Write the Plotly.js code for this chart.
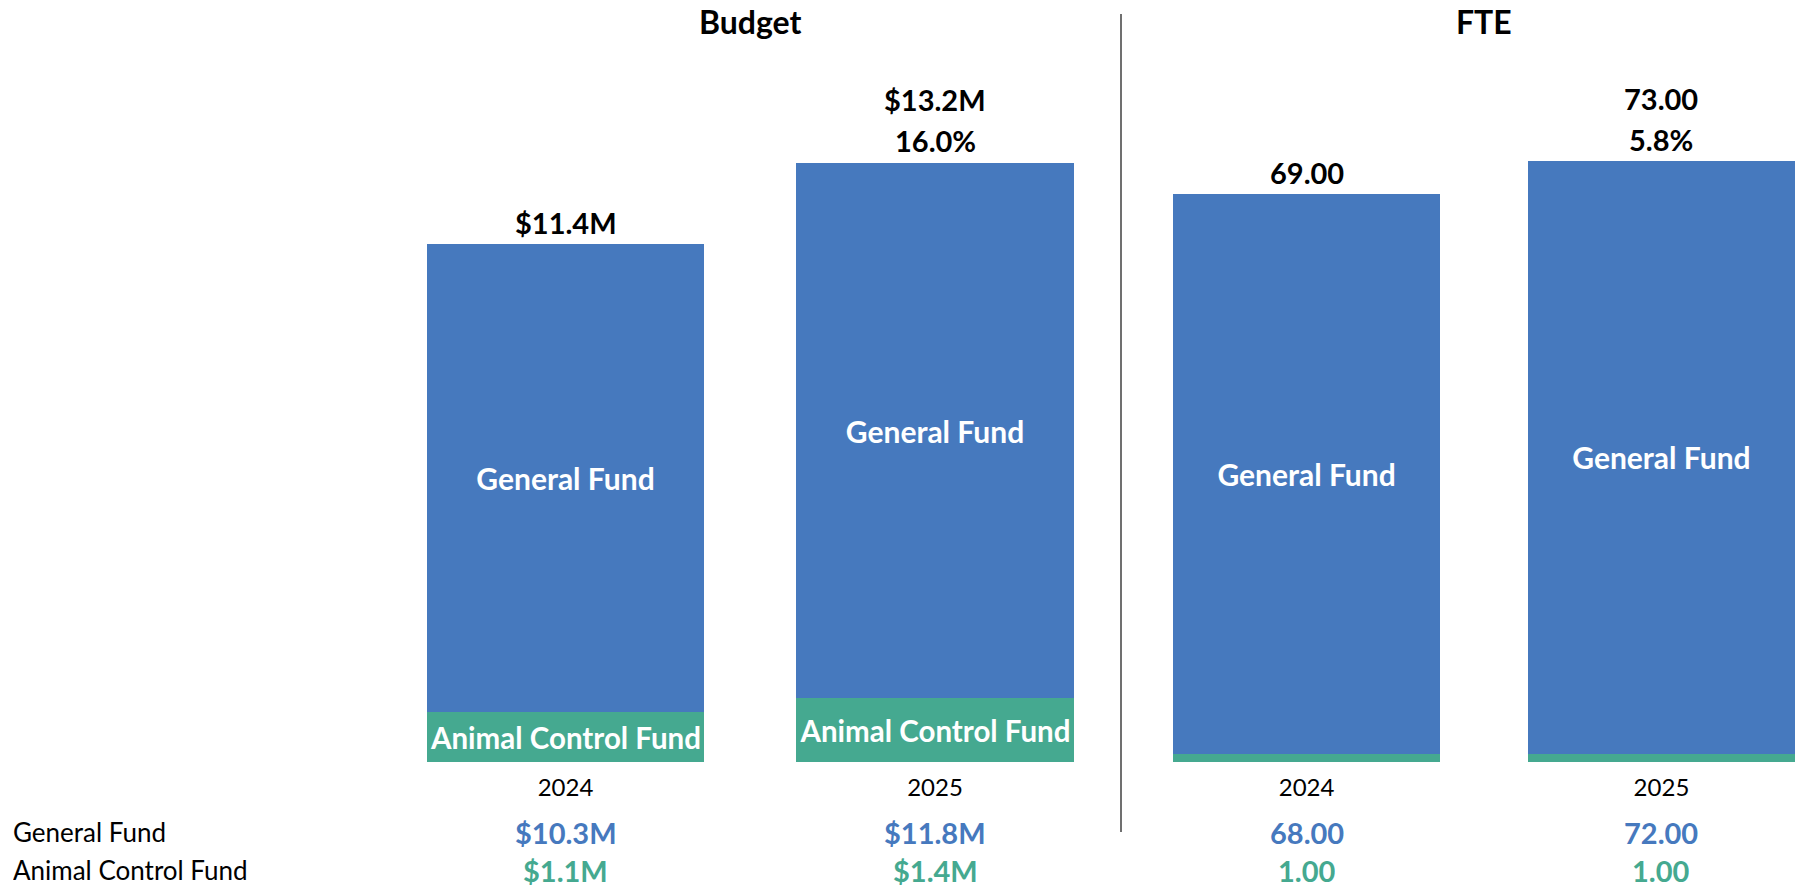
<!DOCTYPE html>
<html>
<head>
<meta charset="utf-8">
<script src="https://cdn.plot.ly/plotly-3.0.1.min.js"></script>
<style>
  html, body { margin: 0; padding: 0; background: #ffffff; }
  #chart { width: 1802px; height: 887px; }
</style>
</head>
<body>
<div id="chart"></div>
<script>
// ---- data ----
var years = ['2024', '2025'];
var budgetGeneral = [10.3, 11.8];
var budgetAnimal = [1.1, 1.4];
var budgetTotalLabels = ['$11.4M', '$13.2M'];
var budgetChangeLabels = ['', '16.0%'];
var budgetGeneralLabels = ['$10.3M', '$11.8M'];
var budgetAnimalLabels = ['$1.1M', '$1.4M'];
var fteGeneral = [68, 72];
var fteAnimal = [1, 1];
var fteTotalLabels = ['69.00', '73.00'];
var fteChangeLabels = ['', '5.8%'];
var fteGeneralLabels = ['68.00', '72.00'];
var fteAnimalLabels = ['1.00', '1.00'];
var seriesNames = ['General Fund', 'Animal Control Fund'];
var panelTitles = ['Budget', 'FTE'];

var BLUE = '#4679BE';
var GREEN = '#45A990';
var FONT = 'Lato, "Open Sans", sans-serif';

function sum(a, b) { return a.map(function (v, i) { return v + b[i]; }); }
var budgetTotal = sum(budgetGeneral, budgetAnimal);
var fteTotal = sum(fteGeneral, fteAnimal);

var insideFont = { family: FONT, size: 30, color: '#ffffff', weight: 700 };

var traces = [
  { type: 'bar', name: seriesNames[1], x: years, y: budgetAnimal, xaxis: 'x', yaxis: 'y',
    marker: { color: GREEN }, text: years.map(function () { return seriesNames[1]; }),
    textposition: 'inside', insidetextanchor: 'middle', textfont: insideFont, hoverinfo: 'none' },
  { type: 'bar', name: seriesNames[0], x: years, y: budgetGeneral, xaxis: 'x', yaxis: 'y',
    marker: { color: BLUE }, text: years.map(function () { return seriesNames[0]; }),
    textposition: 'inside', insidetextanchor: 'middle', textfont: insideFont, hoverinfo: 'none' },
  { type: 'bar', name: seriesNames[1], x: years, y: fteAnimal, xaxis: 'x2', yaxis: 'y2',
    marker: { color: GREEN }, textposition: 'none', hoverinfo: 'none' },
  { type: 'bar', name: seriesNames[0], x: years, y: fteGeneral, xaxis: 'x2', yaxis: 'y2',
    marker: { color: BLUE }, text: years.map(function () { return seriesNames[0]; }),
    textposition: 'inside', insidetextanchor: 'middle', textfont: insideFont, hoverinfo: 'none' }
];

var annotations = [];
var topFont = { family: FONT, size: 29, color: '#000000', weight: 700 };

function addTotals(xref, yref, totals, totalLabels, changeLabels) {
  years.forEach(function (yr, i) {
    var hasChange = changeLabels[i] !== '';
    annotations.push({ xref: xref, yref: yref, x: i, y: totals[i], text: totalLabels[i],
      showarrow: false, yanchor: 'middle', yshift: hasChange ? 63 : 22, font: topFont });
    if (hasChange) {
      annotations.push({ xref: xref, yref: yref, x: i, y: totals[i], text: changeLabels[i],
        showarrow: false, yanchor: 'middle', yshift: 22, font: topFont });
    }
  });
}
addTotals('x', 'y', budgetTotal, budgetTotalLabels, budgetChangeLabels);
addTotals('x2', 'y2', fteTotal, fteTotalLabels, fteChangeLabels);

// bottom value rows
var rowY = [-0.1057, -0.1631];
function addRows(xref, genLabels, aniLabels) {
  years.forEach(function (yr, i) {
    annotations.push({ xref: xref, yref: 'paper', x: i, y: rowY[0], text: genLabels[i], height: 30,
      showarrow: false, yanchor: 'middle', font: { family: FONT, size: 29, color: BLUE, weight: 700 } });
    annotations.push({ xref: xref, yref: 'paper', x: i, y: rowY[1], text: aniLabels[i], height: 30,
      showarrow: false, yanchor: 'middle', font: { family: FONT, size: 29, color: GREEN, weight: 700 } });
  });
}
addRows('x', budgetGeneralLabels, budgetAnimalLabels);
addRows('x2', fteGeneralLabels, fteAnimalLabels);

// row headers
annotations.push({ xref: 'paper', yref: 'paper', x: 11 / 1802, y: rowY[0], text: seriesNames[0], height: 30,
  showarrow: false, xanchor: 'left', yanchor: 'middle', font: { family: FONT, size: 26, color: '#000000' } });
annotations.push({ xref: 'paper', yref: 'paper', x: 11 / 1802, y: rowY[1], text: seriesNames[1], height: 30,
  showarrow: false, xanchor: 'left', yanchor: 'middle', font: { family: FONT, size: 26, color: '#000000' } });

// panel titles
annotations.push({ xref: 'x', yref: 'paper', x: 0.5, y: 1.118, text: panelTitles[0], showarrow: false,
  yanchor: 'middle', font: { family: FONT, size: 32, color: '#000000', weight: 700 } });
annotations.push({ xref: 'x2', yref: 'paper', x: 0.5, y: 1.118, text: panelTitles[1], showarrow: false,
  yanchor: 'middle', font: { family: FONT, size: 32, color: '#000000', weight: 700 } });

var W = 1802;
var layout = {
  width: 1802, height: 887,
  margin: { l: 0, r: 0, t: 100, b: 125, pad: 0 },
  paper_bgcolor: '#ffffff', plot_bgcolor: 'rgba(0,0,0,0)',
  barmode: 'stack', bargap: 0.25,
  showlegend: false,
  font: { family: FONT },
  xaxis: { domain: [380.75 / W, 1119.75 / W], type: 'category', range: [-0.5, 1.5],
    showgrid: false, zeroline: false, showline: false, ticks: '', ticklabelstandoff: 9,
    tickfont: { family: FONT, size: 24, color: '#000000' }, fixedrange: true },
  yaxis: { domain: [0, 1], range: [0, 14.58], visible: false, fixedrange: true },
  xaxis2: { domain: [1122 / W, 1], type: 'category', range: [-0.52, 1.396], anchor: 'y2',
    showgrid: false, zeroline: false, showline: false, ticks: '', ticklabelstandoff: 9,
    tickfont: { family: FONT, size: 24, color: '#000000' }, fixedrange: true },
  yaxis2: { domain: [0, 1], range: [0, 80.42], anchor: 'x2', visible: false, fixedrange: true },
  annotations: annotations,
  shapes: [
    { type: 'line', xref: 'paper', yref: 'paper', x0: 1121 / W, x1: 1121 / W, y0: 1.13, y1: -0.1057,
      line: { color: '#404040', width: 1.5 } }
  ]
};

Plotly.newPlot('chart', traces, layout, { displayModeBar: false, staticPlot: true });
</script>
</body>
</html>
